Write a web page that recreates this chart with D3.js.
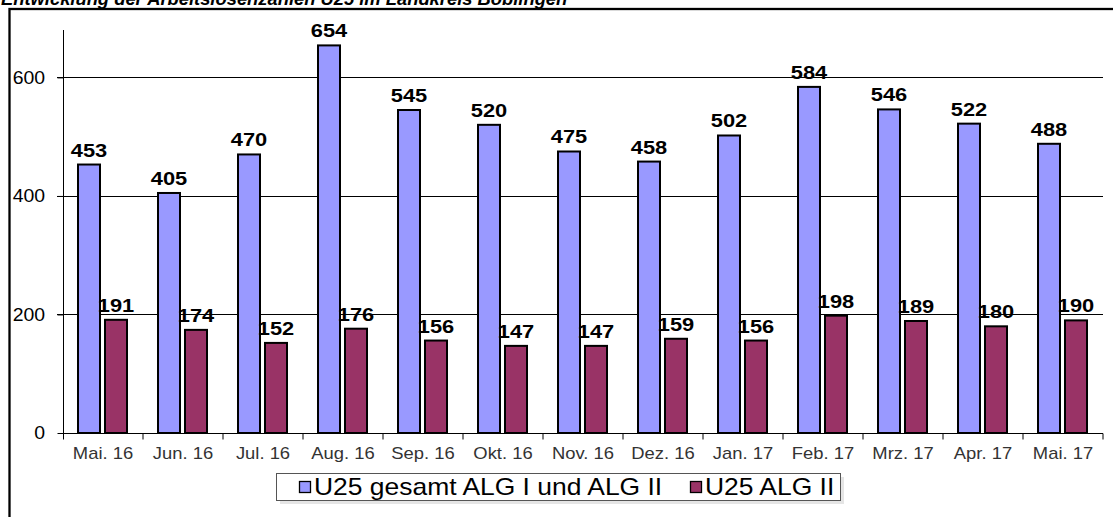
<!DOCTYPE html>
<html>
<head>
<meta charset="utf-8">
<script src="https://cdn.jsdelivr.net/npm/d3@7"></script>
<style>
  body { margin: 0; background: #fff; }
  svg { display: block; font-family: Arial, "Liberation Sans", sans-serif; }
</style>
</head>
<body>
<svg id="chart"></svg>
<script>
var months = ["Mai. 16", "Jun. 16", "Jul. 16", "Aug. 16", "Sep. 16", "Okt. 16", "Nov. 16", "Dez. 16", "Jan. 17", "Feb. 17", "Mrz. 17", "Apr. 17", "Mai. 17"]
var gesamt = [453, 405, 470, 654, 545, 520, 475, 458, 502, 584, 546, 522, 488]
var alg2 = [191, 174, 152, 176, 156, 147, 147, 159, 156, 198, 189, 180, 190]
var seriesNames = ["U25 gesamt ALG I und ALG II", "U25 ALG II"]
var colors = ["#9999ff", "#993366"]
var yTicks = [0, 200, 400, 600]

var width = 1113
var height = 517
var font = "Arial, 'Liberation Sans', sans-serif"
// the source picture is a bit stretched sideways
var stretch = 1.15

var svg = d3.select("#chart").attr("width", width).attr("height", height)

// title, mostly cut off at the top
svg.append("text")
	.attr("transform", "translate(1,5) scale(1.02,1)")
	.attr("font-size", 18)
	.attr("font-weight", "bold")
	.attr("font-style", "italic")
	.text("Entwicklung der Arbeitslosenzahlen U25 im Landkreis Böblingen")

// outer frame
svg.append("rect")
	.attr("x", 9.5)
	.attr("y", 9)
	.attr("width", 1120)
	.attr("height", 520)
	.attr("fill", "none")
	.attr("stroke", "#000")
	.attr("stroke-width", 2.3)

var x0 = 63, x1 = 1103, yTop = 30, yBase = 433

var xScale = d3.scaleBand().domain(months).range([x0, x1])
var yScale = d3.scaleLinear().domain([0, 680]).range([yBase, yTop])

// gridlines
svg.selectAll(".grid")
	.data(yTicks.filter(d => d > 0))
	.enter()
	.append("line")
	.attr("x1", x0 - 6)
	.attr("x2", x1)
	.attr("y1", d => Math.round(yScale(d)) + 0.5)
	.attr("y2", d => Math.round(yScale(d)) + 0.5)
	.attr("stroke", "#000")
	.attr("stroke-width", 1)

// y axis
var yAxis = d3.axisLeft(yScale).tickValues(yTicks).tickSize(6).tickPadding(11)
var gy = svg.append("g").attr("transform", "translate(" + (x0 + 0.5) + ",0)").call(yAxis)
gy.select(".domain").attr("d", "M0," + yTop + "V" + yBase)
gy.selectAll("text")
	.attr("transform", "scale(1.08,1)")
	.attr("font-size", 18)
	.attr("font-family", font)
	.attr("fill", "#000")

// x axis
var xAxis = d3.axisBottom(xScale).tickSize(6).tickPadding(8)
var gx = svg.append("g").attr("transform", "translate(0," + (yBase + 0.5) + ")").call(xAxis)
gx.select(".domain").attr("d", "M" + x0 + ",0H" + x1)
gx.selectAll(".tick line")
	.attr("transform", "translate(" + (xScale.bandwidth() / 2) + ",0)")
gx.append("line").attr("x1", x0 + 0.5).attr("x2", x0 + 0.5).attr("y1", 0).attr("y2", 6).attr("stroke", "#000")
gx.selectAll("text")
	.attr("transform", "scale(" + stretch + ",1)")
	.attr("font-size", 16)
	.attr("font-family", font)
	.attr("fill", "#333")

var barW = 22
var offs = [15, 42]

var groups = [gesamt, alg2]
groups.forEach(function (vals, i) {
	var g = svg.append("g")
	g.selectAll("rect")
		.data(vals)
		.enter()
		.append("rect")
		.attr("x", (d, j) => xScale(months[j]) + offs[i])
		.attr("y", d => yScale(d))
		.attr("width", barW)
		.attr("height", d => yBase - yScale(d))
		.attr("fill", colors[i])
		.attr("stroke", "#000")
		.attr("stroke-width", 2)
	g.selectAll("text")
		.data(vals)
		.enter()
		.append("text")
		.attr("transform", (d, j) => "translate(" + (xScale(months[j]) + offs[i] + barW / 2) + "," + (yScale(d) - 8) + ") scale(" + stretch + ",1)")
		.attr("text-anchor", "middle")
		.attr("font-size", 19)
		.attr("font-weight", "bold")
		.text(d => d)
})

// legend
var legend = svg.append("g")
legend.append("rect")
	.attr("x", 280).attr("y", 477).attr("width", 564).attr("height", 27)
	.attr("fill", "#ccc").attr("opacity", 0.5)
legend.append("rect")
	.attr("x", 276.5).attr("y", 473.5).attr("width", 564).attr("height", 27)
	.attr("fill", "#fff").attr("stroke", "#555").attr("stroke-width", 1)

var legX = [299, 690]
seriesNames.forEach(function (name, i) {
	legend.append("rect")
		.attr("x", legX[i] + 0.5).attr("y", 481.5).attr("width", 11).attr("height", 11)
		.attr("fill", colors[i]).attr("stroke", "#000").attr("stroke-width", 1.3)
	legend.append("text")
		.attr("transform", "translate(" + (legX[i] + 15) + ",495) scale(" + stretch + ",1)")
		.attr("font-size", 23)
		.text(name)
})
</script>
</body>
</html>
